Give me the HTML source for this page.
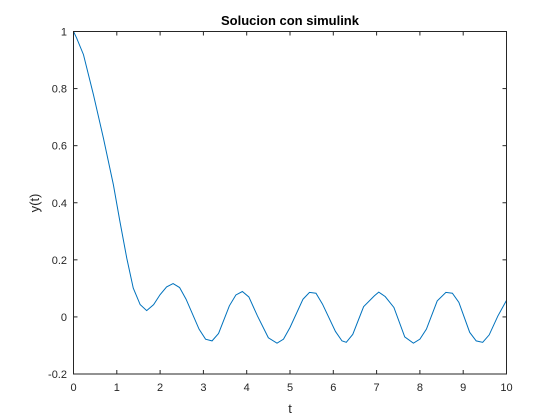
<!DOCTYPE html>
<html><head><meta charset="utf-8"><style>
body{margin:0;background:#fff;}
svg{display:block;font-family:"Liberation Sans",Arial,sans-serif;}
</style></head><body>
<svg id="chart" width="560" height="420">
<rect width="560" height="420" fill="#ffffff"/>
<rect x="73" y="31" width="434" height="343" fill="#fff"/>
<g id="ticks"></g>
<path id="line" fill="none" stroke="#0072BD" stroke-width="1"/>
<rect x="73.5" y="31.5" width="433" height="342.5" fill="none" stroke="#262626" stroke-width="1"/>
<text x="290" y="25" text-anchor="middle" font-size="13" font-weight="bold" fill="#000">Solucion con simulink</text>
<text x="290" y="413" text-anchor="middle" font-size="13" fill="#262626">t</text>
<text transform="translate(39,203) rotate(-90)" text-anchor="middle" font-size="13" fill="#262626">y(t)</text>
</svg>
<script>
const tVals=[0,0.07,0.23,0.46,0.69,0.92,1.07,1.23,1.38,1.54,1.69,1.85,2.0,2.15,2.3,2.45,2.6,2.9,3.05,3.2,3.35,3.6,3.75,3.9,4.05,4.25,4.5,4.7,4.85,5.0,5.3,5.45,5.6,5.75,6.05,6.2,6.3,6.45,6.7,6.95,7.05,7.2,7.4,7.65,7.85,8.0,8.15,8.4,8.6,8.75,8.9,9.15,9.3,9.45,9.6,9.8,10];
const yVals=[1,0.978,0.919,0.779,0.627,0.464,0.336,0.206,0.101,0.043,0.022,0.043,0.078,0.105,0.117,0.103,0.062,-0.043,-0.078,-0.084,-0.058,0.039,0.077,0.089,0.07,0.003,-0.073,-0.092,-0.078,-0.037,0.062,0.086,0.083,0.045,-0.051,-0.084,-0.089,-0.061,0.036,0.074,0.087,0.071,0.033,-0.07,-0.092,-0.078,-0.043,0.056,0.086,0.083,0.051,-0.054,-0.084,-0.089,-0.063,0.003,0.058];
const xTicks=[0,1,2,3,4,5,6,7,8,9,10];
const yTicks=[-0.2,0,0.2,0.4,0.6,0.8,1];
const yTickLabels=["-0.2","0","0.2","0.4","0.6","0.8","1"];
const X0=73.5,X1=506.5,Y0=374,Y1=31.5;
function sx(v){return X0+(v-0)/(10-0)*(X1-X0);}
function sy(v){return Y0-(v+0.2)/(1.2)*(Y0-Y1);}
const ns="http://www.w3.org/2000/svg";
const g=document.getElementById('ticks');
function mk(tag,attrs){const e=document.createElementNS(ns,tag);for(const k in attrs)e.setAttribute(k,attrs[k]);g.appendChild(e);return e;}
xTicks.forEach(v=>{
 const x=sx(v);
 const t1=mk('line',{x1:x,x2:x,y1:Y0,y2:Y0-4,stroke:'#262626'});
 
 
 const t2=mk('line',{x1:x,x2:x,y1:Y1,y2:Y1+4,stroke:'#262626'});
 
 
 const l=mk('text',{x:x,y:391,'text-anchor':'middle','font-size':'11',fill:'#262626'});
 l.textContent=String(v);
 
 
});
yTicks.forEach((v,i)=>{
 const y=sy(v);
 const t1=mk('line',{x1:X0,x2:X0+4,y1:y,y2:y,stroke:'#262626'});
 
 
 const t2=mk('line',{x1:X1,x2:X1-4,y1:y,y2:y,stroke:'#262626'});
 
 
 const l=mk('text',{x:67,y:y+4,'text-anchor':'end','font-size':'11',fill:'#262626'});
 l.textContent=yTickLabels[i];
 
 
});
document.getElementById('line').setAttribute('d',tVals.map((t,i)=>(i?'L':'M')+sx(t).toFixed(2)+','+sy(yVals[i]).toFixed(2)).join(''));
</script>
</body></html>
